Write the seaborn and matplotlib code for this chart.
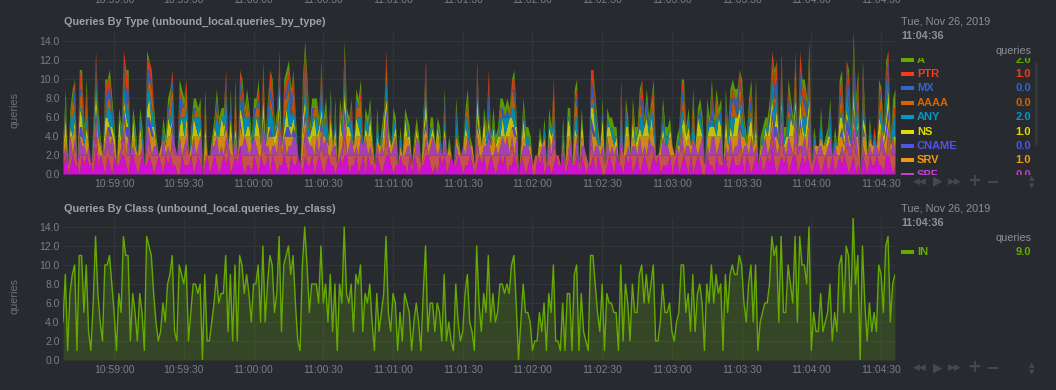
import pandas as pd
import seaborn as sns
import matplotlib.pyplot as plt
from matplotlib import transforms
from matplotlib.patches import Rectangle

# queries per second of class IN (bottom chart), one value per second
in_queries = [
    4, 9, 1, 7, 9, 10, 1, 11, 11, 5,
    10, 3, 1, 6, 13, 7, 4, 2, 10, 10,
    11, 8, 5, 1, 7, 5, 13, 11, 11, 2,
    7, 5, 2, 7, 5, 1, 13, 12, 11, 7,
    4, 2, 3, 6, 4, 8, 9, 11, 3, 2,
    10, 9, 8, 10, 2, 5, 8, 8, 7, 8,
    0, 9, 2, 2, 4, 6, 9, 6, 7, 7,
    11, 3, 9, 2, 10, 2, 11, 10, 7, 9,
    7, 4, 8, 8, 10, 4, 12, 4, 8, 11,
    10, 5, 7, 13, 3, 10, 11, 12, 9, 11,
    6, 2, 1, 10, 14, 10, 5, 8, 8, 8,
    6, 12, 6, 8, 4, 9, 3, 8, 1, 8,
    6, 14, 7, 6, 8, 3, 9, 8, 10, 3,
    7, 6, 8, 4, 1, 7, 3, 5, 7, 13,
    5, 3, 7, 6, 1, 5, 2, 7, 6, 5,
    1, 4, 6, 4, 1, 7, 12, 3, 6, 6,
    3, 6, 5, 2, 9, 2, 4, 2, 1, 8,
    4, 2, 3, 7, 9, 4, 3, 1, 12, 6,
    3, 7, 5, 11, 4, 7, 4, 5, 8, 8,
    7, 8, 7, 10, 11, 6, 0, 4, 8, 5,
    5, 4, 1, 2, 2, 5, 3, 6, 1, 7,
    5, 10, 2, 2, 1, 6, 1, 7, 7, 1,
    9, 10, 1, 7, 3, 2, 1, 11, 11, 8,
    5, 3, 8, 1, 7, 6, 6, 5, 5, 1,
    10, 2, 8, 6, 2, 8, 5, 5, 9, 10,
    6, 9, 6, 8, 10, 2, 2, 4, 8, 5,
    5, 6, 3, 2, 4, 5, 10, 10, 5, 7,
    3, 9, 3, 7, 8, 6, 1, 8, 6, 10,
    6, 9, 7, 8, 1, 9, 5, 9, 10, 9,
    9, 11, 10, 6, 4, 8, 10, 4, 10, 1,
    4, 5, 6, 6, 8, 13, 11, 12, 4, 13,
    5, 5, 10, 8, 6, 13, 4, 13, 10, 10,
    8, 14, 1, 5, 3, 3, 7, 3, 4, 5,
    8, 2, 5, 3, 10, 11, 5, 12, 11, 5,
    15, 8, 11, 0, 12, 6, 2, 6, 3, 5,
    3, 10, 9, 5, 12, 13, 4, 8, 9,
]

# queries per second by type (top chart), same seconds
q_soa = [
    1, 2, 0, 1, 2, 1, 1, 0, 2, 1,  2, 1, 1, 0, 3, 1, 2, 1, 0, 2,
    1, 0, 2, 1, 1, 2, 2, 1, 0, 2,  2, 1, 0, 1, 2, 1, 1, 2, 1, 0,
    1, 2, 1, 0, 2, 1, 2, 1, 1, 0,  0, 2, 1, 1, 1, 2, 0, 1, 2, 1,
    0, 1, 2, 0, 1, 2, 1, 0, 1, 2,  1, 2, 0, 1, 2, 1, 3, 1, 0, 1,
    1, 0, 2, 1, 0, 2, 1, 1, 2, 0,  2, 1, 0, 1, 1, 2, 1, 0, 2, 1,
    1, 2, 1, 0, 2, 1, 1, 2, 0, 1,  2, 1, 0, 1, 2, 1, 1, 0, 1, 2,
    1, 2, 2, 0, 1, 1, 2, 0, 1, 2,  0, 2, 1, 1, 0, 2, 1, 0, 1, 2,
    2, 1, 0, 1, 1, 2, 1, 1, 0, 2,  0, 2, 1, 0, 1, 1, 2, 2, 1, 0,
    1, 0, 2, 1, 2, 0, 1, 2, 1, 1,  2, 1, 0, 1, 1, 2, 1, 0, 1, 2,
    1, 2, 0, 1, 2, 1, 0, 1, 2, 1,  2, 0, 1, 1, 2, 1, 0, 2, 1, 0,
    1, 2, 0, 0, 2, 1, 2, 0, 1, 1,  0, 1, 2, 1, 1, 2, 0, 1, 2, 1,
    1, 2, 0, 2, 1, 0, 1, 1, 2, 0,  2, 1, 0, 0, 1, 2, 1, 0, 2, 1,
    1, 0, 2, 1, 2, 0, 1, 2, 0, 1,  2, 1, 0, 1, 2, 1, 2, 0, 1, 1,
    1, 2, 0, 1, 2, 0, 1, 2, 1, 0,  2, 0, 1, 2, 1, 0, 0, 2, 1, 1,
    0, 2, 1, 1, 1, 2, 0, 1, 2, 1,  1, 1, 2, 0, 2, 1, 0, 1, 2, 1,
    2, 0, 1, 2, 1, 3, 1, 0, 1, 2,  1, 2, 0, 1, 2, 2, 0, 1, 2, 1,
    2, 1, 0, 1, 2, 1, 0, 1, 2, 0,  1, 2, 0, 1, 2, 1, 2, 1, 0, 1,
    2, 0, 1, 0, 2, 1, 0, 2, 1, 1,  2, 1, 1, 0, 2, 2, 1, 0, 1,
]
q_txt = [
    1, 0, 1, 1, 0, 2, 0, 2, 0, 1,  0, 1, 0, 2, 1, 1, 0, 1, 2, 1,
    1, 2, 0, 0, 1, 0, 2, 1, 2, 0,  0, 1, 2, 1, 0, 0, 2, 1, 1, 2,
    1, 0, 1, 2, 0, 1, 0, 2, 1, 2,  2, 0, 1, 2, 1, 0, 2, 1, 0, 1,
    0, 1, 0, 2, 1, 0, 1, 2, 1, 0,  2, 0, 2, 1, 0, 1, 0, 1, 2, 1,
    1, 2, 0, 1, 2, 0, 2, 1, 0, 2,  0, 1, 2, 3, 1, 0, 1, 2, 0, 1,
    1, 0, 0, 2, 2, 1, 1, 0, 2, 1,  0, 2, 2, 1, 0, 1, 1, 2, 0, 0,
    1, 2, 0, 2, 1, 1, 0, 2, 1, 0,  2, 0, 1, 1, 1, 0, 1, 2, 1, 2,
    0, 1, 2, 1, 0, 0, 1, 1, 2, 0,  1, 0, 1, 2, 0, 1, 1, 0, 1, 2,
    1, 2, 0, 1, 0, 2, 1, 0, 0, 1,  0, 1, 2, 1, 1, 0, 1, 1, 2, 0,
    1, 0, 2, 1, 0, 1, 2, 1, 0, 1,  0, 2, 1, 2, 0, 1, 0, 0, 1, 2,
    1, 0, 1, 2, 0, 1, 0, 2, 0, 1,  2, 2, 0, 1, 0, 0, 1, 1, 0, 0,
    1, 0, 1, 0, 1, 2, 0, 2, 0, 2,  0, 1, 2, 1, 1, 0, 1, 2, 0, 0,
    2, 2, 0, 1, 0, 2, 1, 0, 2, 1,  0, 1, 2, 2, 0, 1, 0, 2, 1, 1,
    1, 0, 2, 1, 0, 2, 2, 0, 1, 2,  0, 2, 1, 0, 1, 2, 1, 0, 1, 1,
    2, 0, 1, 1, 0, 0, 2, 1, 0, 1,  1, 2, 0, 2, 0, 1, 2, 1, 0, 0,
    0, 2, 1, 0, 1, 1, 1, 2, 1, 2,  1, 0, 2, 1, 0, 2, 2, 2, 0, 1,
    0, 3, 1, 1, 0, 1, 2, 1, 0, 2,  1, 0, 2, 1, 0, 1, 0, 2, 2, 1,
    2, 2, 1, 0, 0, 1, 2, 0, 1, 1,  0, 1, 2, 2, 0, 2, 1, 2, 1,
]
q_spf = [
    0, 1, 0, 2, 0, 1, 0, 2, 1, 1,  0, 1, 0, 1, 2, 0, 0, 0, 1, 2,
    1, 2, 0, 0, 0, 1, 1, 0, 2, 0,  1, 0, 0, 0, 1, 0, 2, 1, 0, 1,
    1, 0, 0, 2, 0, 1, 0, 2, 1, 0,  2, 0, 1, 1, 0, 0, 2, 0, 1, 2,
    0, 0, 0, 0, 1, 1, 2, 0, 1, 0,  1, 1, 0, 0, 2, 0, 0, 1, 2, 1,
    0, 1, 2, 1, 0, 0, 2, 1, 1, 0,  1, 1, 0, 2, 0, 2, 0, 1, 1, 2,
    2, 0, 0, 0, 1, 2, 1, 1, 0, 2,  0, 2, 1, 2, 0, 0, 1, 1, 0, 0,
    1, 2, 0, 1, 2, 0, 1, 0, 2, 1,  2, 0, 1, 0, 0, 1, 0, 1, 0, 2,
    1, 0, 1, 2, 0, 0, 0, 0, 1, 1,  0, 0, 2, 1, 0, 0, 1, 0, 1, 2,
    1, 0, 1, 0, 2, 0, 0, 0, 0, 1,  0, 0, 1, 0, 2, 1, 0, 0, 1, 0,
    0, 1, 1, 2, 0, 0, 1, 0, 1, 2,  1, 2, 0, 1, 0, 2, 0, 0, 1, 1,
    1, 0, 0, 0, 0, 0, 1, 1, 0, 2,  0, 2, 0, 0, 0, 1, 0, 0, 2, 0,
    0, 2, 0, 1, 1, 0, 0, 2, 0, 1,  1, 0, 1, 0, 2, 0, 1, 0, 1, 0,
    2, 0, 0, 1, 0, 1, 1, 0, 2, 0,  1, 0, 2, 0, 1, 0, 0, 0, 2, 1,
    1, 0, 0, 0, 1, 0, 2, 0, 1, 1,  0, 2, 1, 0, 1, 2, 0, 1, 0, 2,
    2, 0, 1, 2, 0, 1, 0, 2, 0, 1,  1, 2, 0, 1, 1, 0, 2, 0, 1, 0,
    0, 1, 2, 0, 1, 1, 2, 0, 1, 2,  1, 0, 2, 1, 0, 2, 1, 0, 1, 2,
    0, 2, 0, 1, 0, 1, 1, 0, 0, 1,  2, 0, 1, 0, 0, 1, 0, 2, 1, 1,
    1, 2, 0, 0, 1, 0, 0, 1, 0, 1,  1, 0, 2, 1, 0, 1, 0, 2, 0,
]
q_srv = [
    1, 1, 0, 0, 2, 1, 0, 0, 1, 0,  2, 0, 0, 1, 0, 2, 1, 0, 1, 0,
    1, 0, 1, 0, 2, 0, 1, 2, 0, 0,  1, 1, 0, 2, 0, 0, 0, 1, 2, 1,
    0, 0, 1, 0, 1, 1, 2, 0, 0, 0,  0, 2, 1, 1, 0, 1, 0, 2, 1, 0,
    0, 2, 0, 0, 0, 1, 0, 2, 1, 2,  1, 0, 2, 0, 0, 0, 2, 1, 0, 1,
    2, 0, 0, 1, 2, 1, 0, 0, 1, 2,  1, 0, 2, 0, 1, 0, 2, 1, 1, 0,
    0, 0, 0, 2, 1, 0, 0, 1, 2, 0,  2, 0, 1, 0, 1, 2, 0, 1, 0, 2,
    1, 0, 2, 1, 0, 1, 1, 2, 0, 0,  0, 2, 1, 1, 0, 1, 1, 0, 2, 0,
    0, 1, 1, 0, 0, 1, 0, 2, 1, 0,  0, 1, 0, 0, 0, 2, 1, 1, 1, 0,
    0, 2, 0, 0, 0, 0, 1, 0, 0, 1,  1, 0, 0, 2, 0, 0, 1, 0, 1, 2,
    1, 1, 0, 0, 1, 2, 0, 1, 1, 0,  1, 0, 2, 1, 2, 0, 0, 1, 1, 0,
    0, 1, 0, 0, 0, 1, 0, 1, 0, 0,  1, 0, 0, 0, 0, 1, 0, 2, 0, 0,
    2, 0, 0, 1, 0, 0, 0, 0, 2, 1,  0, 1, 1, 0, 0, 2, 1, 1, 0, 0,
    0, 0, 2, 1, 0, 1, 0, 1, 0, 2,  1, 2, 0, 2, 1, 0, 0, 1, 0, 0,
    0, 2, 1, 0, 0, 1, 0, 2, 0, 1,  1, 0, 0, 2, 1, 0, 0, 1, 2, 0,
    0, 2, 1, 0, 0, 1, 1, 0, 2, 1,  1, 0, 2, 1, 0, 2, 0, 1, 1, 0,
    1, 0, 0, 2, 1, 1, 0, 2, 0, 0,  0, 1, 0, 1, 2, 0, 0, 2, 1, 0,
    2, 0, 0, 0, 1, 0, 1, 1, 1, 0,  0, 0, 0, 1, 2, 1, 1, 0, 1, 0,
    1, 0, 2, 0, 1, 2, 0, 1, 1, 0,  0, 2, 0, 0, 2, 1, 1, 0, 1,
]
q_cname = [
    0, 0, 0, 0, 0, 0, 0, 1, 1, 0,  0, 0, 0, 0, 1, 0, 0, 0, 0, 0,
    1, 0, 0, 0, 0, 0, 1, 1, 1, 0,  0, 0, 0, 0, 0, 0, 1, 1, 1, 0,
    0, 0, 0, 0, 0, 0, 0, 1, 0, 0,  0, 0, 0, 0, 0, 0, 0, 0, 0, 0,
    0, 0, 0, 0, 0, 0, 0, 0, 0, 0,  1, 0, 0, 0, 0, 0, 1, 0, 0, 0,
    0, 0, 0, 0, 0, 0, 1, 0, 0, 1,  0, 0, 0, 1, 0, 0, 1, 1, 0, 1,
    0, 0, 0, 0, 1, 0, 0, 0, 0, 0,  0, 1, 0, 0, 0, 0, 0, 0, 0, 0,
    0, 1, 0, 0, 0, 0, 0, 0, 0, 0,  0, 0, 0, 0, 0, 0, 0, 0, 0, 1,
    0, 0, 0, 0, 0, 0, 0, 0, 0, 0,  0, 0, 0, 0, 0, 0, 1, 0, 0, 0,
    0, 0, 0, 0, 0, 0, 0, 0, 0, 0,  0, 0, 0, 0, 0, 0, 0, 0, 1, 0,
    0, 0, 0, 1, 0, 0, 0, 0, 0, 0,  0, 0, 0, 0, 1, 0, 0, 0, 0, 0,
    0, 0, 0, 0, 0, 0, 0, 0, 0, 0,  0, 0, 0, 0, 0, 0, 0, 0, 0, 0,
    0, 0, 0, 0, 0, 0, 0, 1, 1, 0,  0, 0, 0, 0, 0, 0, 0, 0, 0, 0,
    0, 0, 0, 0, 0, 0, 0, 0, 0, 0,  0, 0, 0, 0, 0, 0, 0, 0, 0, 0,
    0, 0, 0, 0, 0, 0, 0, 0, 0, 0,  0, 0, 0, 0, 0, 0, 0, 0, 0, 0,
    0, 0, 0, 0, 0, 0, 0, 0, 0, 0,  0, 1, 0, 0, 0, 0, 0, 0, 0, 0,
    0, 0, 0, 0, 0, 1, 1, 1, 0, 1,  0, 0, 0, 0, 0, 1, 0, 1, 0, 0,
    0, 1, 0, 0, 0, 0, 0, 0, 0, 0,  0, 0, 0, 0, 0, 1, 0, 1, 1, 0,
    1, 0, 1, 0, 1, 0, 0, 0, 0, 0,  0, 0, 0, 0, 1, 1, 0, 0, 0,
]
q_ns = [
    0, 2, 0, 1, 0, 1, 0, 2, 1, 0,  1, 0, 0, 0, 2, 0, 0, 0, 2, 1,
    0, 1, 1, 0, 2, 0, 1, 1, 0, 0,  2, 0, 0, 1, 0, 0, 1, 2, 0, 1,
    0, 0, 0, 0, 0, 2, 1, 0, 0, 0,  1, 2, 0, 1, 0, 0, 2, 1, 0, 1,
    0, 1, 0, 0, 0, 1, 0, 0, 2, 1,  0, 0, 2, 0, 1, 0, 1, 2, 0, 1,
    1, 0, 0, 2, 1, 0, 2, 0, 1, 0,  0, 1, 1, 2, 0, 1, 2, 0, 1, 1,
    0, 0, 0, 2, 1, 0, 1, 1, 2, 0,  1, 1, 0, 0, 0, 2, 0, 1, 0, 2,
    0, 2, 1, 1, 0, 0, 2, 1, 0, 0,  1, 0, 2, 0, 0, 0, 0, 0, 2, 1,
    1, 0, 0, 1, 0, 0, 0, 2, 0, 1,  0, 0, 1, 0, 0, 1, 2, 0, 0, 1,
    0, 1, 0, 0, 1, 0, 0, 0, 0, 0,  0, 0, 0, 1, 0, 0, 0, 0, 2, 1,
    0, 2, 0, 1, 0, 1, 0, 1, 0, 2,  0, 1, 2, 1, 0, 1, 0, 0, 2, 0,
    0, 0, 0, 0, 0, 1, 0, 0, 0, 1,  1, 0, 0, 0, 0, 0, 0, 2, 1, 0,
    1, 0, 0, 2, 0, 0, 0, 1, 2, 0,  0, 0, 2, 0, 1, 1, 0, 0, 1, 0,
    0, 0, 1, 1, 0, 2, 0, 1, 1, 0,  1, 2, 0, 1, 0, 0, 0, 0, 1, 0,
    0, 1, 0, 0, 0, 0, 0, 2, 1, 1,  0, 0, 0, 2, 1, 0, 0, 0, 1, 1,
    1, 0, 2, 1, 0, 2, 0, 1, 0, 2,  2, 1, 0, 0, 0, 1, 2, 0, 1, 0,
    0, 0, 1, 0, 2, 1, 0, 2, 0, 1,  0, 1, 0, 2, 1, 1, 0, 2, 1, 0,
    2, 1, 0, 0, 0, 0, 0, 0, 0, 1,  0, 0, 0, 0, 2, 1, 1, 1, 0, 0,
    2, 0, 1, 0, 1, 1, 0, 0, 0, 0,  0, 2, 0, 1, 1, 2, 0, 0, 1,
]
q_any = [
    0, 0, 0, 1, 2, 1, 0, 0, 1, 1,  1, 0, 0, 1, 1, 2, 0, 0, 0, 1,
    2, 1, 0, 0, 0, 1, 2, 1, 2, 0,  0, 1, 0, 1, 1, 0, 2, 1, 2, 1,
    0, 0, 0, 1, 0, 0, 1, 2, 0, 0,  1, 0, 2, 1, 0, 1, 0, 1, 2, 1,
    0, 1, 0, 0, 0, 0, 2, 1, 0, 1,  2, 0, 0, 0, 1, 0, 1, 0, 2, 1,
    1, 0, 2, 0, 1, 0, 1, 0, 1, 2,  2, 0, 1, 1, 0, 1, 0, 3, 1, 1,
    1, 0, 0, 0, 2, 2, 0, 1, 0, 2,  0, 2, 1, 2, 0, 0, 0, 1, 0, 0,
    1, 1, 1, 0, 2, 0, 0, 1, 2, 0,  1, 1, 0, 0, 0, 2, 0, 1, 0, 2,
    0, 0, 2, 0, 0, 1, 0, 0, 1, 0,  0, 0, 0, 0, 0, 1, 1, 0, 1, 0,
    0, 0, 1, 0, 1, 0, 0, 0, 0, 2,  0, 0, 0, 1, 2, 0, 0, 0, 1, 0,
    0, 0, 1, 1, 0, 1, 0, 0, 2, 0,  2, 1, 0, 1, 2, 0, 0, 0, 0, 1,
    1, 0, 0, 0, 0, 0, 0, 1, 0, 1,  0, 2, 0, 0, 0, 1, 0, 0, 1, 0,
    1, 2, 0, 0, 0, 0, 0, 1, 0, 2,  1, 0, 0, 0, 1, 0, 1, 1, 0, 0,
    2, 0, 1, 0, 0, 0, 1, 0, 1, 2,  0, 0, 1, 1, 2, 0, 0, 0, 1, 1,
    1, 0, 0, 0, 0, 1, 2, 0, 0, 1,  0, 2, 0, 0, 1, 1, 0, 2, 0, 1,
    0, 2, 0, 1, 0, 0, 1, 1, 2, 0,  0, 1, 2, 1, 0, 1, 0, 0, 1, 0,
    0, 1, 0, 1, 0, 2, 2, 1, 0, 2,  1, 0, 2, 0, 0, 2, 0, 1, 1, 2,
    0, 2, 0, 1, 0, 0, 2, 0, 0, 0,  2, 0, 1, 0, 0, 1, 0, 2, 2, 1,
    1, 2, 1, 0, 2, 0, 0, 1, 0, 1,  0, 0, 2, 0, 2, 1, 0, 2, 2,
]
q_aaaa = [
    0, 1, 0, 0, 2, 0, 0, 1, 2, 0,  2, 0, 0, 0, 1, 0, 0, 0, 0, 1,
    1, 0, 0, 0, 0, 0, 2, 0, 1, 0,  0, 0, 0, 0, 0, 0, 0, 1, 2, 0,
    0, 0, 0, 0, 0, 0, 2, 1, 0, 0,  0, 1, 1, 2, 0, 0, 0, 1, 0, 1,
    0, 2, 0, 0, 0, 0, 1, 0, 0, 0,  1, 0, 0, 0, 2, 0, 1, 0, 0, 2,
    0, 0, 0, 1, 1, 0, 2, 0, 0, 1,  1, 0, 0, 0, 0, 2, 1, 1, 0, 2,
    0, 0, 0, 0, 2, 1, 0, 0, 1, 1,  0, 0, 0, 1, 0, 1, 0, 0, 0, 1,
    0, 1, 0, 0, 0, 0, 1, 1, 2, 0,  0, 0, 0, 0, 0, 0, 0, 0, 0, 2,
    0, 0, 0, 0, 0, 0, 0, 0, 0, 0,  0, 0, 0, 0, 0, 0, 1, 0, 0, 0,
    0, 0, 0, 0, 1, 0, 0, 0, 0, 0,  0, 0, 0, 0, 2, 0, 0, 0, 0, 0,
    0, 0, 0, 0, 0, 0, 0, 0, 1, 0,  0, 0, 0, 2, 1, 0, 0, 0, 0, 0,
    0, 0, 0, 0, 0, 0, 0, 0, 0, 0,  0, 2, 0, 0, 0, 0, 0, 0, 0, 0,
    2, 1, 0, 0, 0, 0, 0, 0, 1, 0,  0, 0, 0, 0, 0, 0, 0, 0, 0, 0,
    1, 0, 0, 0, 0, 1, 0, 0, 2, 0,  0, 0, 0, 1, 2, 0, 0, 0, 0, 0,
    0, 0, 0, 0, 0, 0, 0, 2, 0, 0,  0, 2, 0, 0, 0, 0, 0, 1, 0, 0,
    0, 2, 0, 0, 0, 1, 0, 0, 2, 1,  0, 2, 1, 0, 0, 0, 1, 0, 2, 0,
    0, 0, 0, 0, 0, 2, 1, 0, 0, 1,  0, 0, 1, 0, 0, 2, 0, 0, 2, 1,
    0, 2, 0, 0, 0, 0, 0, 0, 0, 0,  0, 0, 0, 0, 1, 2, 0, 1, 0, 0,
    1, 0, 2, 0, 1, 0, 0, 0, 0, 0,  0, 1, 2, 0, 0, 1, 0, 1, 0,
]
q_mx = [
    0, 1, 0, 0, 0, 2, 0, 1, 0, 0,  0, 0, 0, 0, 1, 0, 0, 0, 2, 1,
    1, 1, 0, 0, 0, 0, 0, 2, 1, 0,  0, 0, 0, 0, 0, 0, 2, 1, 0, 0,
    0, 0, 0, 0, 0, 1, 0, 1, 0, 0,  2, 1, 0, 0, 0, 0, 1, 0, 0, 0,
    0, 0, 0, 0, 0, 0, 1, 0, 0, 0,  1, 0, 2, 0, 0, 0, 1, 2, 0, 0,
    0, 0, 1, 0, 1, 0, 0, 0, 1, 1,  1, 0, 0, 2, 0, 0, 1, 1, 2, 0,
    0, 0, 0, 2, 0, 1, 0, 1, 0, 0,  0, 2, 0, 0, 0, 1, 0, 1, 0, 0,
    0, 1, 0, 0, 1, 0, 1, 0, 0, 0,  0, 0, 1, 0, 0, 0, 0, 0, 0, 0,
    0, 0, 0, 0, 0, 0, 0, 0, 0, 0,  0, 0, 0, 0, 0, 0, 1, 0, 0, 0,
    0, 0, 0, 0, 1, 0, 0, 0, 0, 1,  0, 0, 0, 0, 0, 0, 0, 0, 2, 0,
    0, 0, 0, 2, 0, 0, 0, 0, 0, 1,  0, 1, 0, 0, 1, 0, 0, 0, 1, 0,
    0, 0, 0, 0, 0, 0, 0, 0, 0, 0,  0, 0, 0, 0, 0, 0, 0, 0, 0, 0,
    0, 1, 0, 0, 0, 0, 0, 2, 1, 1,  0, 0, 1, 0, 0, 0, 0, 0, 0, 0,
    1, 0, 1, 0, 0, 0, 0, 0, 0, 2,  0, 2, 0, 0, 0, 0, 0, 0, 1, 0,
    0, 0, 0, 0, 0, 0, 2, 0, 0, 0,  0, 0, 0, 0, 1, 0, 0, 0, 0, 2,
    0, 0, 0, 1, 0, 1, 0, 2, 0, 1,  2, 0, 1, 0, 0, 1, 1, 0, 0, 0,
    0, 0, 0, 0, 1, 0, 1, 2, 0, 1,  0, 0, 1, 1, 0, 0, 0, 2, 0, 1,
    1, 0, 0, 0, 0, 0, 0, 0, 0, 0,  1, 0, 0, 0, 1, 0, 0, 1, 2, 0,
    2, 1, 0, 0, 1, 0, 0, 0, 0, 0,  0, 1, 0, 0, 2, 1, 0, 0, 0,
]
q_ptr = [
    0, 0, 0, 0, 0, 1, 0, 2, 1, 0,  1, 0, 0, 0, 1, 0, 0, 0, 1, 1,
    1, 0, 0, 0, 0, 0, 1, 2, 1, 0,  0, 0, 0, 0, 0, 0, 1, 1, 2, 0,
    0, 0, 0, 0, 0, 0, 0, 1, 0, 0,  1, 0, 0, 1, 0, 0, 0, 0, 0, 0,
    0, 0, 0, 0, 0, 0, 0, 0, 0, 0,  1, 0, 0, 0, 1, 0, 1, 1, 0, 0,
    0, 0, 0, 0, 1, 0, 1, 0, 0, 2,  1, 0, 0, 1, 0, 1, 1, 1, 0, 2,
    0, 0, 0, 1, 1, 1, 0, 0, 0, 0,  0, 1, 0, 0, 0, 0, 0, 0, 0, 0,
    0, 1, 0, 0, 1, 0, 0, 0, 1, 0,  0, 0, 0, 0, 0, 0, 0, 0, 0, 1,
    0, 0, 0, 0, 0, 0, 0, 0, 0, 0,  0, 0, 0, 0, 0, 0, 1, 0, 0, 0,
    0, 0, 0, 0, 0, 0, 0, 0, 0, 0,  0, 0, 0, 0, 0, 0, 0, 0, 1, 0,
    0, 0, 0, 2, 0, 0, 0, 0, 0, 0,  0, 0, 0, 1, 1, 0, 0, 0, 0, 0,
    0, 0, 0, 0, 0, 0, 0, 0, 0, 0,  0, 1, 0, 0, 0, 0, 0, 0, 0, 0,
    0, 1, 0, 0, 0, 0, 0, 1, 2, 0,  0, 0, 0, 0, 0, 0, 0, 0, 0, 0,
    1, 0, 0, 0, 0, 0, 0, 0, 0, 2,  0, 0, 0, 0, 1, 0, 0, 0, 0, 0,
    0, 0, 0, 0, 0, 0, 1, 1, 0, 0,  0, 0, 0, 0, 0, 0, 0, 0, 0, 1,
    0, 0, 0, 0, 0, 0, 0, 0, 1, 0,  0, 1, 1, 0, 0, 0, 1, 0, 1, 0,
    0, 0, 0, 0, 0, 1, 1, 2, 0, 1,  0, 0, 1, 0, 0, 1, 0, 2, 1, 1,
    0, 1, 0, 0, 0, 0, 0, 0, 0, 0,  0, 0, 0, 0, 1, 1, 0, 1, 1, 0,
    1, 0, 1, 0, 1, 0, 0, 0, 0, 1,  0, 1, 0, 0, 1, 1, 0, 0, 1,
]
q_a = [
    1, 1, 0, 1, 1, 0, 0, 0, 1, 1,  1, 0, 0, 1, 0, 1, 1, 0, 1, 0,
    1, 1, 1, 0, 1, 1, 0, 0, 1, 0,  1, 1, 0, 1, 1, 0, 1, 0, 0, 1,
    1, 0, 0, 1, 1, 1, 1, 0, 0, 0,  1, 1, 1, 0, 0, 1, 1, 1, 1, 1,
    0, 1, 0, 0, 1, 1, 1, 1, 1, 1,  0, 0, 1, 0, 1, 0, 0, 1, 1, 1,
    1, 1, 1, 1, 1, 1, 0, 1, 1, 0,  1, 1, 1, 0, 0, 1, 1, 1, 1, 0,
    1, 0, 0, 1, 1, 1, 1, 1, 1, 1,  1, 0, 1, 1, 1, 1, 0, 1, 0, 1,
    1, 1, 1, 1, 0, 0, 1, 1, 1, 0,  1, 1, 1, 1, 0, 1, 0, 1, 1, 0,
    1, 0, 1, 1, 0, 1, 0, 1, 1, 1,  0, 1, 1, 1, 0, 1, 0, 0, 1, 1,
    0, 1, 1, 0, 1, 0, 1, 0, 0, 1,  1, 0, 0, 1, 1, 1, 0, 0, 0, 1,
    0, 1, 1, 0, 1, 1, 1, 1, 1, 1,  1, 1, 1, 0, 1, 1, 0, 1, 1, 1,
    1, 1, 0, 0, 0, 1, 0, 1, 0, 1,  1, 0, 0, 0, 0, 1, 0, 1, 1, 0,
    1, 1, 0, 1, 0, 0, 0, 0, 0, 1,  1, 0, 1, 0, 1, 1, 1, 1, 1, 0,
    0, 0, 1, 1, 0, 1, 1, 1, 1, 0,  1, 1, 1, 0, 1, 0, 0, 1, 1, 1,
    1, 1, 0, 0, 1, 1, 0, 1, 1, 1,  0, 1, 0, 1, 1, 1, 0, 1, 1, 1,
    1, 1, 1, 1, 0, 1, 1, 1, 1, 1,  1, 0, 1, 1, 1, 1, 1, 1, 1, 0,
    1, 1, 1, 1, 1, 0, 1, 0, 1, 0,  1, 1, 1, 1, 1, 0, 1, 0, 1, 1,
    1, 1, 0, 1, 0, 0, 1, 0, 1, 1,  1, 0, 1, 0, 1, 1, 1, 0, 1, 1,
    1, 1, 1, 0, 1, 1, 0, 1, 0, 0,  0, 1, 0, 1, 1, 0, 1, 1, 2,
]

type_names = ["A", "PTR", "MX", "AAAA", "ANY", "NS", "CNAME", "SRV", "SPF", "TXT", "SOA"]
type_values = [q_a, q_ptr, q_mx, q_aaaa, q_any, q_ns, q_cname, q_srv, q_spf, q_txt, q_soa]
type_colors = ["#66AA00", "#FE3912", "#3366CC", "#D66300", "#0099C6", "#DDDD00",
               "#5054E6", "#EE9911", "#BB44CC", "#E45757", "#EF0AEF"]

time_ticks = ["10:59:00", "10:59:30", "11:00:00", "11:00:30", "11:01:00", "11:01:30",
              "11:02:00", "11:02:30", "11:03:00", "11:03:30", "11:04:00", "11:04:30"]
day = "2019-11-26"
first_second = "10:58:38"

BG = "#272b30"
GRID = "#2f3638"
TICK = "#7b7f84"
TITLE = "#9da0a4"
ICON = "#45494e"

sns.set_theme(style="dark", rc={
    "figure.facecolor": BG, "axes.facecolor": BG, "savefig.facecolor": BG,
    "axes.edgecolor": BG, "grid.color": GRID, "text.color": TITLE,
    "xtick.color": TICK, "ytick.color": TICK,
})
plt.rcParams["font.family"] = ["Liberation Sans", "DejaVu Sans"]

times = pd.date_range(f"{day} {first_second}", periods=len(in_queries), freq="s")
tick_pos = pd.to_datetime([f"{day} {t}" for t in time_ticks])

fig = plt.figure(figsize=(10.56, 3.9), dpi=100)
ax_top = fig.add_axes([63 / 1056, 1 - 174 / 390, 832 / 1056, 142.5 / 390])
ax_bot = fig.add_axes([63 / 1056, 1 - 360 / 390, 832 / 1056, 142.5 / 390])

# stacked by type, last dimension at the bottom
ax_top.stackplot(times, *type_values[::-1], colors=type_colors[::-1],
                 alpha=0.85, linewidth=0)

sns.lineplot(x=times, y=in_queries, ax=ax_bot, color="#66AA00", linewidth=1.0)
ax_bot.fill_between(times, in_queries, color="#66AA00", alpha=0.22, linewidth=0)

for ax in (ax_top, ax_bot):
    ax.set_xlim(times[0], times[-1])
    ax.set_ylim(0, 15)
    ax.set_yticks(range(0, 15, 2))
    ax.set_yticklabels([f"{v:.1f}" for v in range(0, 15, 2)])
    ax.set_xticks(tick_pos)
    ax.set_xticklabels(time_ticks)
    ax.grid(True, color=GRID, linewidth=0.9)
    ax.set_axisbelow(True)
    ax.tick_params(axis="both", length=0, labelsize=7.5, colors=TICK)
    ax.tick_params(axis="y", pad=2.5)
    ax.tick_params(axis="x", pad=3.5)
    ax.set_xlabel("")
    ax.set_ylabel("")
    for s in ax.spines.values():
        s.set_visible(False)

# overlay in pixel coordinates for the dashboard texts
ov = fig.add_axes([0, 0, 1, 1])
ov.set_xlim(0, 1056)
ov.set_ylim(390, 0)
ov.axis("off")

# cut-off time labels of the chart above
top_tr = transforms.blended_transform_factory(ax_top.transData, fig.transFigure)
for t, lab in zip(tick_pos, time_ticks):
    ax_top.text(t, 1 - 3 / 390, lab, transform=top_tr, ha="center", va="baseline",
                fontsize=7.5, color=TICK, clip_on=False)

charts = [
    ("Queries By Type (unbound_local.queries_by_type)", 0),
    ("Queries By Class (unbound_local.queries_by_class)", 186.5),
]
for title, dy in charts:
    ov.text(64, 22 + dy, title, fontsize=7.8, fontweight="bold", color=TITLE,
            ha="left", va="center")
    ov.text(14, 110 + dy, "queries", fontsize=7.8, color="#6f7378", rotation=90,
            ha="center", va="center")
    ov.text(901, 22 + dy, "Tue, Nov 26, 2019", fontsize=7.8, color="#8d9095",
            ha="left", va="center")
    ov.text(901, 36 + dy, "11:04:36", fontsize=7.8, fontweight="bold",
            color="#8d9095", ha="left", va="center")
    ov.text(1031, 51.5 + dy, "queries", fontsize=7.8, color="#8d9095",
            ha="right", va="center")
    # chart controls
    cy = 181 + dy
    ov.text(920, cy, "◀◀", fontsize=6.5, color=ICON, ha="center", va="center",
            family=["DejaVu Sans"])
    ov.text(938, cy, "▶", fontsize=9, color=ICON, ha="center", va="center",
            family=["DejaVu Sans"])
    ov.text(955, cy, "▶▶", fontsize=6.5, color=ICON, ha="center", va="center",
            family=["DejaVu Sans"])
    ov.text(974, cy, "+", fontsize=12, fontweight="bold", color=ICON,
            ha="center", va="center", family=["DejaVu Sans"])
    ov.text(992, cy, "−", fontsize=12, fontweight="bold", color=ICON,
            ha="center", va="center", family=["DejaVu Sans"])
    ov.text(1031.5, cy - 2.5, "▲", fontsize=5, color=ICON, ha="center",
            va="center", family=["DejaVu Sans"])
    ov.text(1031.5, cy + 5, "▼", fontsize=5, color=ICON, ha="center",
            va="center", family=["DejaVu Sans"])

# scrollbar of the type legend
ov.add_patch(Rectangle((1034.5, 63), 3.5, 82, color="#33373c", linewidth=0))

# legend of the type chart, clipped like the scrolling box
leg = fig.add_axes([895 / 1056, 1 - 175 / 390, 161 / 1056, 117 / 390])
leg.set_xlim(895, 1056)
leg.set_ylim(175, 58)
leg.axis("off")
for i, (name, vals, col) in enumerate(zip(type_names, type_values, type_colors)):
    y = 59.6 + 14.4 * i
    leg.add_patch(Rectangle((901, y - 2), 13, 4, color=col, linewidth=0))
    leg.text(917, y, name, fontsize=8, fontweight="bold", color=col,
             ha="left", va="center", clip_on=True)
    leg.text(1031, y, f"{vals[-1]:.1f}", fontsize=8, fontweight="bold",
             color=col, ha="right", va="center", clip_on=True)

# legend of the class chart
ov.add_patch(Rectangle((901, 250), 13, 4, color="#66AA00", linewidth=0))
ov.text(917, 252, "IN", fontsize=8, fontweight="bold", color="#66AA00",
        ha="left", va="center")
ov.text(1031, 252, f"{in_queries[-1]:.1f}", fontsize=8, fontweight="bold",
        color="#66AA00", ha="right", va="center")

fig.savefig("out.png", dpi=100, facecolor=BG)
